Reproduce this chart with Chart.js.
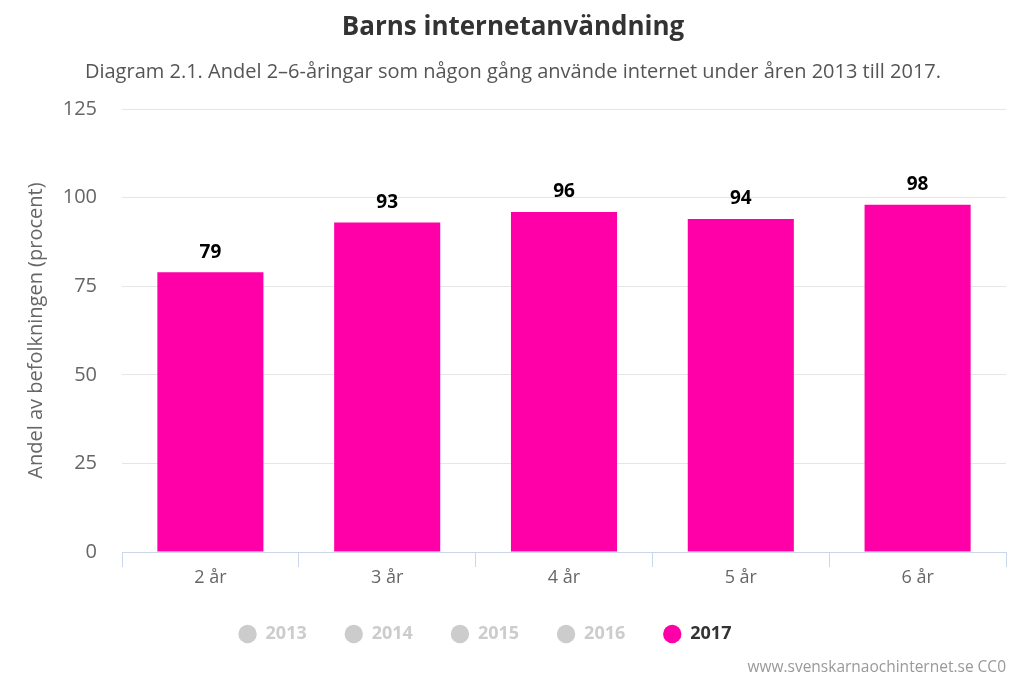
<!DOCTYPE html>
<html>
<head>
<meta charset="utf-8">
<style>
    body { margin: 0; background: #fff; }
</style>
</head>
<body>
<canvas id="chart" width="1024" height="683"></canvas>

<script src="https://cdn.jsdelivr.net/npm/chart.js@4"></script>
<script>
    const categories = ['2 år', '3 år', '4 år', '5 år', '6 år'];
    const values2017 = [79, 93, 96, 94, 98];
    const years = ['2013', '2014', '2015', '2016', '2017'];
    const shownYear = '2017';
    const yTicks = [0, 25, 50, 75, 100, 125];

    const pink = '#ff00a8';
    const greyed = '#cccccc';

    Chart.defaults.font.family = "'Open Sans', sans-serif";

    // value labels above bars
    const valueLabels = {
        id: 'valueLabels',
        afterDatasetsDraw(chart) {
            const ctx = chart.ctx;
            ctx.save();
            ctx.font = "bold 19px 'Open Sans'";
            ctx.fillStyle = '#000';
            ctx.textAlign = 'center';
            ctx.textBaseline = 'middle';
            chart.getDatasetMeta(0).data.forEach((bar, i) => {
                ctx.fillText(chart.data.datasets[0].data[i], bar.x, bar.y - 20);
            });
            ctx.restore();
        }
    };

    // credits line + nudge the legend to where the original sits
    const credits = {
        id: 'credits',
        afterLayout(chart) {
            chart.legend.left -= 28;
            chart.legend.right -= 28;
        },
        afterDraw(chart) {
            const ctx = chart.ctx;
            ctx.save();
            ctx.font = "15.5px 'Open Sans'";
            ctx.fillStyle = '#999';
            ctx.textAlign = 'right';
            ctx.textBaseline = 'middle';
            ctx.fillText('www.svenskarnaochinternet.se CC0', 1006, 668);
            ctx.restore();
        }
    };

    const ctx = document.getElementById('chart').getContext('2d');
    new Chart(ctx, {
        type: 'bar',
        data: {
            labels: categories,
            datasets: [{
                label: shownYear,
                data: values2017,
                backgroundColor: pink,
                borderWidth: 0,
                categoryPercentage: 1,
                barPercentage: 0.6
            }]
        },
        options: {
            responsive: false,
            animation: false,
            layout: { padding: { left: 20, right: 18, top: 0, bottom: 30 } },
            scales: {
                x: {
                    afterFit(scale) { scale.height = 35; },
                    grid: {
                        drawOnChartArea: false,
                        tickLength: 15,
                        color: '#ccd6eb'
                    },
                    border: { color: '#ccd6eb' },
                    ticks: {
                        color: '#666',
                        font: { size: 18 },
                        padding: 0
                    }
                },
                y: {
                    min: 0,
                    max: 125,
                    afterFit(scale) { scale.width = 102; },
                    afterBuildTicks(scale) { scale.ticks = yTicks.map(v => ({ value: v })); },
                    grid: { color: '#e6e6e6', drawTicks: false },
                    border: { display: false },
                    ticks: {
                        color: '#666',
                        font: { size: 20 },
                        padding: 25
                    },
                    title: {
                        display: true,
                        text: 'Andel av befolkningen (procent)',
                        color: '#666',
                        font: { size: 20 },
                        padding: { top: 4, bottom: 0 }
                    }
                }
            },
            plugins: {
                title: {
                    display: true,
                    text: 'Barns internetanvändning',
                    color: '#333',
                    font: { size: 26, weight: 'bold' },
                    padding: { top: 12, bottom: 17 }
                },
                subtitle: {
                    display: true,
                    text: 'Diagram 2.1. Andel 2–6-åringar som någon gång använde internet under åren 2013 till 2017.',
                    color: '#555',
                    font: { size: 20 },
                    padding: { top: 0, bottom: 25 }
                },
                legend: {
                    position: 'bottom',
                    onClick: null,
                    labels: {
                        usePointStyle: true,
                        pointStyle: 'circle',
                        boxWidth: 18,
                        boxHeight: 13,
                        padding: 38,
                        font: { size: 18, weight: 'bold' },
                        generateLabels() {
                            return years.map(y => {
                                const c = y === shownYear ? pink : greyed;
                                return {
                                    text: y,
                                    fillStyle: c,
                                    strokeStyle: c,
                                    lineWidth: 0,
                                    pointStyle: 'circle',
                                    fontColor: y === shownYear ? '#333' : greyed,
                                    hidden: false,
                                    datasetIndex: 0
                                };
                            });
                        }
                    }
                },
                tooltip: { enabled: false }
            }
        },
        plugins: [valueLabels, credits]
    });
</script>
</body>
</html>
